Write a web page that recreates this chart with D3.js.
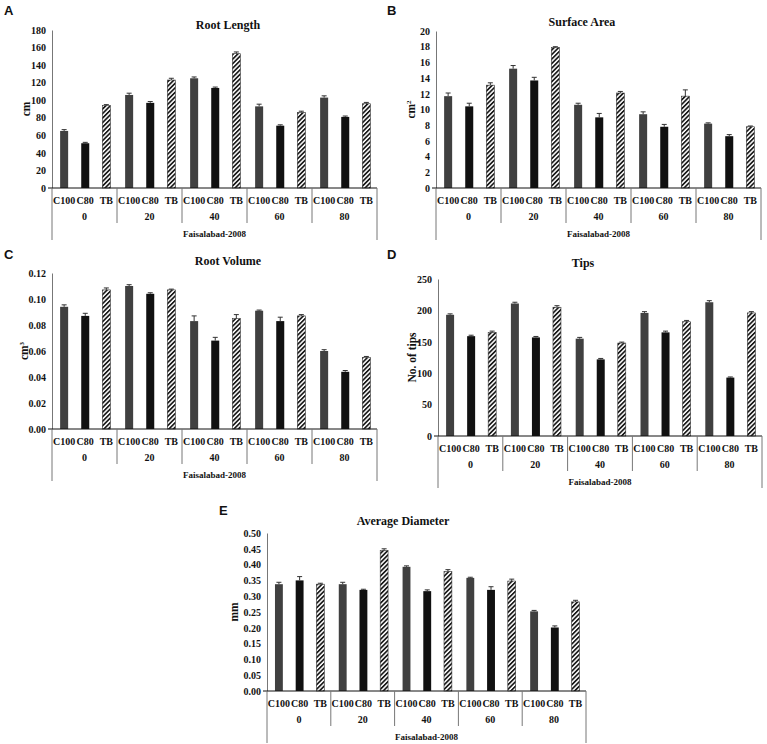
<!DOCTYPE html>
<html>
<head>
<meta charset="utf-8">
<title>Root traits - Faisalabad-2008</title>
<style>
  body { margin: 0; padding: 0; background: #fff; }
  svg { display: block; }
  .tick-label { font-family: "Liberation Serif", "Times New Roman", serif; font-weight: bold; font-size: 10px; fill: #111; }
  .title { font-family: "Liberation Serif", "Times New Roman", serif; font-weight: bold; font-size: 12px; fill: #111; }
  .letter { font-family: "Liberation Sans", Arial, sans-serif; font-weight: bold; font-size: 13px; fill: #111; }
</style>
</head>
<body>
<svg id="chart" width="767" height="744"></svg>
<script src="https://d3js.org/d3.v7.min.js"></script>
<script>
// categories
const groups = ["0", "20", "40", "60", "80"];
const series = ["C100", "C80", "TB"];
const groupTitle = "Faisalabad-2008";

// Root Length (cm) - values per group: C100, C80, TB
const rootLength = [[65, 51, 94], [106, 97, 123], [125, 114, 153], [93, 71, 86], [103, 81, 96]];
const rootLengthErr = [[1.5, 1, 1], [2, 1.5, 2], [1.5, 1, 2], [2.5, 1, 1.5], [2, 1, 1.5]];
const rootLengthTicks = [0, 20, 40, 60, 80, 100, 120, 140, 160, 180];

// Surface Area (cm2)
const surfaceArea = [[11.7, 10.4, 13.1], [15.2, 13.7, 17.9], [10.6, 9.0, 12.1], [9.4, 7.8, 11.7], [8.2, 6.6, 7.8]];
const surfaceAreaErr = [[0.4, 0.4, 0.3], [0.4, 0.4, 0.1], [0.2, 0.5, 0.2], [0.3, 0.3, 0.8], [0.1, 0.2, 0.1]];
const surfaceAreaTicks = [0, 2, 4, 6, 8, 10, 12, 14, 16, 18, 20];

// Root Volume (cm3)
const rootVolume = [[0.094, 0.087, 0.107], [0.110, 0.104, 0.107], [0.083, 0.068, 0.085], [0.091, 0.083, 0.087], [0.060, 0.044, 0.055]];
const rootVolumeErr = [[0.0015, 0.002, 0.0015], [0.001, 0.0008, 0.0006], [0.004, 0.0025, 0.003], [0.0005, 0.003, 0.001], [0.001, 0.001, 0.0008]];
const rootVolumeTicks = [0, 0.02, 0.04, 0.06, 0.08, 0.10, 0.12];

// Tips (No. of tips)
const tips = [[193, 159, 165], [211, 157, 205], [155, 122, 148], [196, 165, 182], [213, 93, 196]];
const tipsErr = [[1.5, 1.5, 2], [2, 1.5, 2.5], [2, 1.5, 1.5], [2, 2, 2], [2.5, 1, 2]];
const tipsTicks = [0, 50, 100, 150, 200, 250];

// Average Diameter (mm)
const avgDiameter = [[0.338, 0.350, 0.338], [0.338, 0.320, 0.445], [0.393, 0.316, 0.378], [0.358, 0.320, 0.348], [0.252, 0.201, 0.282]];
const avgDiameterErr = [[0.006, 0.012, 0.003], [0.006, 0.002, 0.005], [0.003, 0.004, 0.006], [0.002, 0.01, 0.006], [0.003, 0.005, 0.005]];
const avgDiameterTicks = [0, 0.05, 0.10, 0.15, 0.20, 0.25, 0.30, 0.35, 0.40, 0.45, 0.50];

const svg = d3.select("#chart");

// hatch pattern for TB bars
const defs = svg.append("defs");
const pat = defs.append("pattern")
  .attr("id", "hatch")
  .attr("patternUnits", "userSpaceOnUse")
  .attr("width", 3.2)
  .attr("height", 3.2)
  .attr("patternTransform", "rotate(45)");
pat.append("rect").attr("width", 3.2).attr("height", 3.2).attr("fill", "#fff");
pat.append("rect").attr("width", 1.7).attr("height", 3.2).attr("fill", "#1a1a1a");

const fills = ["#404040", "#111111", "url(#hatch)"];

function drawPanel(p) {
  const g = svg.append("g");

  const x0 = d3.scaleBand().domain(groups).range([p.left, p.right]);
  const x1 = d3.scaleBand().domain(series).range([0, x0.bandwidth()])
    .paddingInner(0.62).paddingOuter(0.35).align(0.55);
  const y = d3.scaleLinear().domain([0, p.max]).range([p.zero, p.top]);

  // panel letter and title
  g.append("text").attr("class", "letter").attr("x", p.letterX).attr("y", p.letterY).text(p.letter);
  g.append("text").attr("class", "title").attr("x", p.titleX).attr("y", p.titleY)
    .attr("text-anchor", "middle").text(p.title);

  // y axis
  const yAxis = d3.axisLeft(y).tickValues(p.ticks).tickSize(0).tickPadding(6).tickFormat(d3.format(p.fmt));
  const ya = g.append("g").attr("transform", `translate(${p.left},0)`).call(yAxis);
  ya.select(".domain").attr("stroke", "#777").attr("stroke-width", 1);
  ya.selectAll("text").attr("class", "tick-label");
  ya.attr("font-size", null).attr("font-family", null);

  // y label
  const yl = g.append("text").attr("class", "title")
    .attr("transform", `translate(${p.ylabelX},${(p.top + p.zero) / 2}) rotate(-90)`)
    .attr("text-anchor", "middle").style("font-size", "11.5px");
  yl.append("tspan").text(p.ylabel);
  if (p.sup) yl.append("tspan").attr("dy", -4).style("font-size", "7px").text(p.sup);

  // bars
  groups.forEach((grp, gi) => {
    const gg = g.append("g").attr("transform", `translate(${x0(grp)},0)`);
    gg.selectAll("rect.bar")
      .data(series.map((s, si) => ({ s, si, v: p.values[gi][si], e: p.errs[gi][si] })))
      .join("rect")
      .attr("class", "bar")
      .attr("x", d => x1(d.s))
      .attr("width", x1.bandwidth())
      .attr("y", d => y(d.v))
      .attr("height", d => y(0) - y(d.v))
      .attr("fill", d => fills[d.si])
      .attr("stroke", d => d.si === 2 ? "#333" : "none")
      .attr("stroke-width", 0.6);

    // error bars (upper only)
    const eb = gg.selectAll("g.err")
      .data(series.map((s, si) => ({ s, v: p.values[gi][si], e: p.errs[gi][si] })))
      .join("g").attr("class", "err");
    eb.append("line")
      .attr("x1", d => x1(d.s) + x1.bandwidth() / 2)
      .attr("x2", d => x1(d.s) + x1.bandwidth() / 2)
      .attr("y1", d => y(d.v))
      .attr("y2", d => y(d.v + d.e))
      .attr("stroke", "#333").attr("stroke-width", 1);
    eb.append("line")
      .attr("x1", d => x1(d.s) + x1.bandwidth() / 2 - 2.5)
      .attr("x2", d => x1(d.s) + x1.bandwidth() / 2 + 2.5)
      .attr("y1", d => y(d.v + d.e))
      .attr("y2", d => y(d.v + d.e))
      .attr("stroke", "#333").attr("stroke-width", 1);

    // category labels
    gg.selectAll("text.cat")
      .data(series)
      .join("text")
      .attr("class", "tick-label cat")
      .attr("x", d => x1(d) + x1.bandwidth() / 2)
      .attr("y", p.zero + 16)
      .attr("text-anchor", "middle")
      .text(d => d);

    // group label
    gg.append("text").attr("class", "tick-label")
      .attr("x", x0.bandwidth() / 2)
      .attr("y", p.zero + 32)
      .attr("text-anchor", "middle")
      .text(grp);
  });

  // x axis line
  g.append("line").attr("x1", p.left - 4).attr("x2", p.right)
    .attr("y1", p.zero).attr("y2", p.zero).attr("stroke", "#111").attr("stroke-width", 1);

  // group separators
  groups.slice(1).forEach(grp => {
    g.append("line").attr("x1", x0(grp)).attr("x2", x0(grp))
      .attr("y1", p.zero).attr("y2", p.zero + 35)
      .attr("stroke", "#777").attr("stroke-width", 1);
  });
  [p.left, p.right].forEach(xx => {
    g.append("line").attr("x1", xx).attr("x2", xx)
      .attr("y1", p.zero).attr("y2", p.zero + 52)
      .attr("stroke", "#777").attr("stroke-width", 1);
  });

  g.append("text").attr("class", "tick-label")
    .attr("x", (p.left + p.right) / 2)
    .attr("y", p.zero + 49)
    .attr("text-anchor", "middle")
    .style("font-size", "9px")
    .text(groupTitle);
}

drawPanel({ letter: "A", letterX: 4, letterY: 15, title: "Root Length", titleX: 228, titleY: 29,
  left: 52, right: 377, top: 30, zero: 188, max: 180, ticks: rootLengthTicks, fmt: "d",
  ylabel: "cm", ylabelX: 30, values: rootLength, errs: rootLengthErr });

drawPanel({ letter: "B", letterX: 387, letterY: 15, title: "Surface Area", titleX: 582, titleY: 26,
  left: 436, right: 761, top: 31, zero: 188, max: 20, ticks: surfaceAreaTicks, fmt: "d",
  ylabel: "cm", sup: "2", ylabelX: 415, values: surfaceArea, errs: surfaceAreaErr });

drawPanel({ letter: "C", letterX: 4, letterY: 259, title: "Root Volume", titleX: 228, titleY: 265,
  left: 52, right: 377, top: 273, zero: 429, max: 0.12, ticks: rootVolumeTicks, fmt: ".2f",
  ylabel: "cm", sup: "3", ylabelX: 28, values: rootVolume, errs: rootVolumeErr });

drawPanel({ letter: "D", letterX: 387, letterY: 259, title: "Tips", titleX: 583, titleY: 267,
  left: 438, right: 762, top: 279, zero: 436, max: 250, ticks: tipsTicks, fmt: "d",
  ylabel: "No. of tips", ylabelX: 416, values: tips, errs: tipsErr });

drawPanel({ letter: "E", letterX: 219, letterY: 515, title: "Average Diameter", titleX: 403, titleY: 525,
  left: 267, right: 586, top: 533, zero: 691, max: 0.5, ticks: avgDiameterTicks, fmt: ".2f",
  ylabel: "mm", ylabelX: 238, values: avgDiameter, errs: avgDiameterErr });
</script>
</body>
</html>
